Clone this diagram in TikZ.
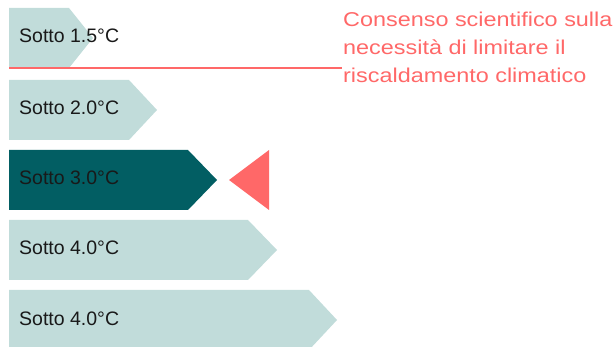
\documentclass[tikz,border=0pt]{standalone}
\usepackage{fontspec}
\setmainfont{Liberation Sans}
\newfontfamily\notefont[FakeStretch=1.17]{Liberation Sans}
\usetikzlibrary{positioning}

\definecolor{palemint}{HTML}{C1DCDA}
\definecolor{deepteal}{HTML}{025E63}
\definecolor{coral}{HTML}{FF6868}

\tikzset{
  band text/.style={anchor=base west, inner sep=0pt, text=black!90,
    font=\fontsize{19.5}{22}\selectfont},
  note text/.style={anchor=north west, inner sep=0pt, align=left, text=coral,
    font=\notefont\fontsize{20}{28}\selectfont}
}

\begin{document}
\begin{tikzpicture}[x=1pt,y=-1pt]
\useasboundingbox (0,0) rectangle (613,347);

%Draw the bands
\foreach \top/\body/\tip/\col/\lbl/\nm in {8/69/24/palemint/1.5/one,
                                          80/129/28/palemint/2.0/two,
                                          150/188/29/deepteal/3.0/three,
                                          220/248/29/palemint/4.0/four,
                                          290/309/28/palemint/4.0/five}
{
	\fill [\col] (9,\top) -- (\body,\top) -- ({\body+\tip},{\top+30})
	             -- (\body,{\top+60}) -- (9,{\top+60}) -- cycle;
	\node [band text] (\nm) at (19,{\top+35}) {Sotto \lbl°C};
}

%Limit line and marker
\coordinate (lineL) at (9,68);
\coordinate (lineR) at (342,68);
\draw [coral, line width=2pt] (lineL) -- (lineR);
\fill [coral] (229,180) -- (269,150) -- (269,210) -- cycle;

\node [note text] (note) at (343,12)
  {Consenso scientifico sulla\\necessità di limitare il\\riscaldamento climatico};
\end{tikzpicture}
\end{document}
